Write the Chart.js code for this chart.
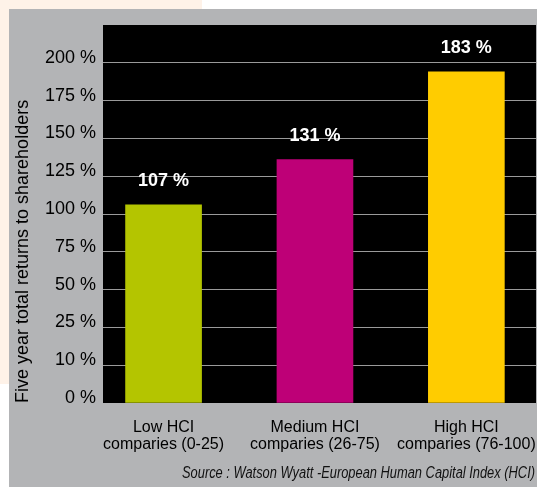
<!DOCTYPE html>
<html>
<head>
<meta charset="utf-8">
<script src="https://cdn.jsdelivr.net/npm/chart.js@4"></script>
<style>
 html, body { margin: 0; padding: 0; background: #ffffff; }
 #wrap { width: 537px; height: 487px; }
</style>
</head>
<body>
<div id="wrap"><canvas id="hci-chart" width="537" height="487"></canvas></div>
<script>
// categories, two lines each
var categories = [
 ["Low HCI", "comparies (0-25)"],
 ["Medium HCI", "comparies (26-75)"],
 ["High HCI", "comparies (76-100)"],
];
// bar heights as drawn (percent)
var barValues = [106, 136, 194];
// printed value labels
var valueLabels = ["107 %", "131 %", "183 %"];
var barColors = ["#b4c500", "#be0077", "#ffcc00"];
// y axis ticks (evenly spaced, not linear)
var tickValues = [0, 10, 25, 50, 75, 100, 125, 150, 175, 200];
var tickLabels = ["0 %", "10 %", "25 %", "50 %", "75 %", "100 %", "125 %", "150 %", "175 %", "200 %"];

var yTitle = "Five year total returns to shareholders";
var sourceText = "Source : Watson Wyatt -European Human Capital Index (HCI)";

Chart.defaults.font.family = "'Liberation Sans', Arial, sans-serif";

// map a percent onto the tick index axis
function toAxis(v) {
 for (var i = 1; i < tickValues.length; i++) {
  if (v <= tickValues[i]) {
   return i - 1 + (v - tickValues[i - 1]) / (tickValues[i] - tickValues[i - 1]);
  }
 }
 var n = tickValues.length - 1;
 return n + (v - tickValues[n]) / (tickValues[n] - tickValues[n - 1]);
}

var backdrop = {
 id: "backdrop",
 beforeDraw: function (chart) {
  var c = chart.ctx;
  var a = chart.chartArea;
  c.save();
  c.fillStyle = "#ffffff";
  c.fillRect(0, 0, chart.width, chart.height);
  c.fillStyle = "#fef2e8";
  c.fillRect(0, 0, 202, 384);
  c.fillStyle = "#b3b4b6";
  c.fillRect(9, 9, chart.width - 9, chart.height - 9);
  c.fillStyle = "#000000";
  c.fillRect(a.left, a.top, a.right - a.left, a.bottom - a.top);
  c.restore();
 },
 afterDatasetsDraw: function (chart) {
  var c = chart.ctx;
  var meta = chart.getDatasetMeta(0);
  c.save();
  c.fillStyle = "#ffffff";
  c.font = "bold 18px 'Liberation Sans', Arial, sans-serif";
  c.textAlign = "center";
  c.textBaseline = "middle";
  meta.data.forEach(function (bar, i) {
   c.fillText(valueLabels[i], bar.x, bar.y - 24);
  });
  c.restore();
 },
 afterDraw: function (chart) {
  var c = chart.ctx;
  c.save();
  c.fillStyle = "#111111";
  c.font = "italic 16px 'Liberation Sans', Arial, sans-serif";
  c.textAlign = "right";
  c.textBaseline = "middle";
  // squeeze to the narrow width of the original
  var w = c.measureText(sourceText).width;
  var k = 353 / w;
  c.translate(535, 474);
  c.scale(k, 1);
  c.fillText(sourceText, 0, 0);
  c.restore();
 },
};

var ctx = document.getElementById("hci-chart");

new Chart(ctx, {
 type: "bar",
 data: {
  datasets: [
   {
    data: barValues.map(function (v, i) {
     return { x: i, y: toAxis(v) };
    }),
    backgroundColor: barColors,
    borderWidth: 0,
    barThickness: 76,
   },
  ],
 },
 options: {
  responsive: false,
  animation: false,
  layout: {
   padding: { top: 25, right: 1, bottom: 0, left: 0 },
  },
  plugins: {
   legend: { display: false },
   tooltip: { enabled: false },
  },
  scales: {
   x: {
    type: "linear",
    min: -0.4,
    max: 2.46,
    offset: false,
    grid: { display: false },
    border: { display: false },
    afterBuildTicks: function (scale) {
     scale.ticks = categories.map(function (c, i) {
      return { value: i };
     });
    },
    afterFit: function (scale) {
     scale.height = 84;
     scale.paddingLeft = 0;
     scale.paddingRight = 0;
    },
    ticks: {
     padding: 8,
     color: "#000000",
     maxRotation: 0,
     autoSkip: false,
     font: { size: 16, lineHeight: "17px" },
     callback: function (value) {
      return categories[value];
     },
    },
   },
   y: {
    type: "linear",
    min: 0,
    max: 10,
    afterBuildTicks: function (scale) {
     scale.ticks = tickValues.map(function (v, i) {
      return { value: i };
     });
    },
    afterFit: function (scale) {
     scale.width = 103;
     scale.paddingTop = 0;
     scale.paddingBottom = 0;
    },
    border: { display: false },
    grid: {
     drawTicks: false,
     lineWidth: 1,
     color: function (c) {
      return c.tick && c.tick.value === 0 ? "rgba(0,0,0,0)" : "#9a9a9a";
     },
    },
    ticks: {
     padding: 7,
     labelOffset: -5,
     color: "#000000",
     font: { size: 18 },
     callback: function (value) {
      return tickLabels[value];
     },
    },
    title: {
     display: true,
     text: yTitle,
     align: "start",
     color: "#000000",
     font: { size: 18 },
     padding: { top: 12, bottom: 0 },
    },
   },
  },
 },
 plugins: [backdrop],
});
</script>
</body>
</html>
